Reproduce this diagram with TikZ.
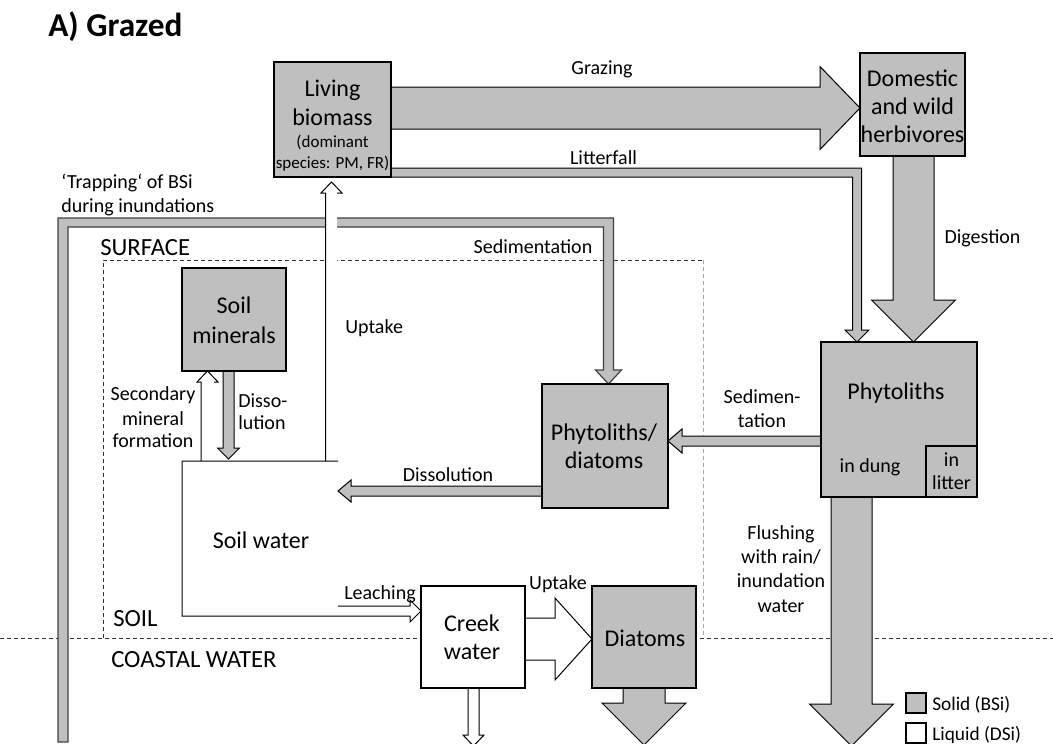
\documentclass[tikz,border=0pt]{standalone}
\usepackage{fontspec}
\setmainfont{Carlito}
\definecolor{fg}{RGB}{191,191,191}
\definecolor{dk}{RGB}{64,64,64}
\newcommand\darr[7]{\path[#1] ({#2-#5},#3) -- ({#2-#5},{#4-#7}) -- ({#2-#6},{#4-#7}) -- (#2,#4) -- ({#2+#6},{#4-#7}) -- ({#2+#5},{#4-#7}) -- ({#2+#5},#3) -- cycle;}
\newcommand\harr[7]{\path[#1] (#3,{#2-#5}) -- ({#4-#7},{#2-#5}) -- ({#4-#7},{#2-#6}) -- (#4,#2) -- ({#4-#7},{#2+#6}) -- ({#4-#7},{#2+#5}) -- (#3,{#2+#5}) -- cycle;}
\def\pxu{0.75pt}
\tikzset{
 gar/.style={fill=fg, draw=black, line width=0.75pt},
 war/.style={fill=white, draw=black, line width=0.75pt},
 tar/.style={fill=fg, draw=dk, line width=0.9pt},
 gbox/.style={draw=black, fill=fg, line width=0.9pt, inner sep=0},
 wbox/.style={draw=black, fill=white, line width=0.9pt, inner sep=0},
 dsh/.style={draw=black!80, line width=0.75pt, dash pattern=on 3pt off 2.25pt},
 ldsh/.style={draw=black!35, line width=0.75pt, dash pattern=on 3pt off 2.25pt},
 T/.style={inner sep=0, anchor=base, font=\fontsize{18}{22}\selectfont},
 L/.style={inner sep=0, anchor=base, font=\fontsize{15}{18}\selectfont},
 S/.style={inner sep=0, anchor=base, font=\fontsize{12.75}{15}\selectfont},
 R/.style={inner sep=0, anchor=base west, font=\fontsize{18.5}{22}\selectfont},
}
\begin{document}
\begin{tikzpicture}[x=0.75pt,y=-0.75pt,line join=miter]
\useasboundingbox (0,0) rectangle (1053,743);
\clip (0,0) rectangle (1053,743);
% dashed region lines
\draw[dsh] (0,638) -- (1053,638);
\draw[dsh] (103,638) -- (103,260) -- (703,260);
\draw[ldsh] (703,260) -- (703,636);
% trapping / sedimentation arrow
\path[tar] (58,742) -- (58,218) -- (613.5,218) -- (613.5,370) -- (621.5,370) -- (608.5,384) -- (595.5,370) -- (603.5,370) -- (603.5,227) -- (68,227) -- (68,742) -- cycle;
% litterfall
\path[gar] (391,168) -- (861.5,168) -- (861.5,330) -- (869,330) -- (857,342) -- (845,330) -- (852.5,330) -- (852.5,177) -- (391,177) -- cycle;
% grazing
\harr{gar}{108}{391}{860}{21}{41.5}{40}
% digestion
\darr{gar}{913.5}{156}{342}{20.5}{42}{42}
% flushing
\darr{gar}{851.5}{497}{746}{20.5}{42}{42}
% diatoms down
\darr{gar}{644}{688}{745}{21}{42}{42}
% creek down
\darr{war}{473.5}{688}{746}{5.5}{10.5}{11}
% uptake creek -> diatoms
\harr{war}{639}{525}{592}{21}{41}{37}
% sedimentation horizontal
\harr{gar}{441}{821}{668}{5}{12}{-14}
% dissolution lower
\harr{gar}{491}{542}{338}{5}{11}{-13}
% dissolution of soil minerals
\darr{gar}{228.5}{371}{459}{5.5}{11}{11}
% uptake to living biomass (white)
\fill[white] (325.5,461) -- (325.5,193) -- (321,193) -- (331.5,182) -- (342,193) -- (337,193) -- (337,461) -- cycle;
\draw[line width=0.75pt] (325.5,461) -- (325.5,193) -- (321,193) -- (331.5,182) -- (342,193) -- (337,193);
% secondary mineral formation (white)
\fill[white] (201,461) -- (201,382) -- (197,382) -- (207.5,371) -- (218,382) -- (214,382) -- (214,461) -- cycle;
\draw[line width=0.75pt] (201,461) -- (201,382) -- (197,382) -- (207.5,371) -- (218,382) -- (214,382);
% soil water bracket and leaching arrow
\fill[white] (338,606) -- (410,606) -- (410,600) -- (421,611) -- (410,622) -- (410,616) -- (338,616) -- cycle;
\draw[line width=0.75pt] (338,461) -- (182,461) -- (182,616) -- (410,616) -- (410,622) -- (421,611) -- (410,600) -- (410,606) -- (338,606);
% boxes
\node[gbox, minimum width=117*\pxu, minimum height=115*\pxu] (lb) at (332.5,119.5) {};
\node[gbox, minimum width=105*\pxu, minimum height=103*\pxu] (dom) at (912.5,104.5) {};
\node[gbox, minimum width=156*\pxu, minimum height=155*\pxu] (ph) at (899,419.5) {};
\node[gbox, minimum width=51*\pxu, minimum height=51*\pxu] (lit) at (951.5,471.5) {};
\node[gbox, minimum width=126*\pxu, minimum height=124*\pxu] (pd) at (605,446) {};
\node[gbox, minimum width=104*\pxu, minimum height=103*\pxu] (sm) at (234,319.5) {};
\node[wbox, minimum width=104*\pxu, minimum height=102*\pxu] (cw) at (473,637) {};
\node[gbox, minimum width=104*\pxu, minimum height=102*\pxu] (dia) at (644,637) {};
\node[gbox, minimum width=20*\pxu, minimum height=20*\pxu] (leg1) at (916,703) {};
\node[wbox, minimum width=20*\pxu, minimum height=20*\pxu] (leg2) at (916,733) {};
% texts
\node[inner sep=0, anchor=base west, font=\bfseries\fontsize{25}{30}\selectfont] (title) at (48,36) {A) Grazed};
\node[T] (lb1) at (332.5,96) {Living};
\node[T] (lb2) at (332.5,125) {biomass};
\node[S] (lb3) at (332.5,147) {(dominant};
\node[S] (lb4) at (332.5,168) {species: PM, FR)};
\node[L] (gz) at (602,74) {Grazing};
\node[L] (lf) at (603.5,164) {Litterfall};
\node[T] (d1) at (912.5,86) {Domestic};
\node[T] (d2) at (912.5,114) {and wild};
\node[T] (d3) at (912.5,142) {herbivores};
\node[L] (dg) at (982.5,243) {Digestion};
\node[L, anchor=base west] (tr1) at (61,188) {‘Trapping‘ of BSi};
\node[L, anchor=base west] (tr2) at (61,212) {during inundations};
\node[L] (sed) at (533,253) {Sedimentation};
\node[R] (surf) at (100,255) {SURFACE};
\node[R] (soil) at (113,626) {SOIL};
\node[R] (coast) at (111,667) {COASTAL WATER};
\node[T] (sm1) at (234,313) {Soil};
\node[T] (sm2) at (234,343) {minerals};
\node[L, anchor=base west] (up1) at (345,333) {Uptake};
\node[L] (sec1) at (153,400) {Secondary};
\node[L] (sec2) at (153,425) {mineral};
\node[L] (sec3) at (153,447) {formation};
\node[L, anchor=base west] (dis1) at (238,407) {Disso-};
\node[L, anchor=base west] (dis2) at (238,429) {lution};
\node[T] (pd1) at (604,440) {Phytoliths/};
\node[T] (pd2) at (604,468) {diatoms};
\node[L] (dl) at (448,481) {Dissolution};
\node[L] (sd1) at (762,403) {Sedimen-};
\node[L] (sd2) at (762,427) {tation};
\node[T] (pht) at (896,399) {Phytoliths};
\node[L] (dung) at (870,472) {in dung};
\node[L] (lt1) at (951.5,466) {in};
\node[L] (lt2) at (951.5,489) {litter};
\node[L] (fl1) at (781,539) {Flushing};
\node[L] (fl2) at (781,563) {with rain/};
\node[L] (fl3) at (781,587) {inundation};
\node[L] (fl4) at (781,612) {water};
\node[T] (sw) at (261,548) {Soil water};
\node[L] (le) at (380,599) {Leaching};
\node[T] (cr1) at (472,631) {Creek};
\node[T] (cr2) at (472,659) {water};
\node[L] (up2) at (558,589) {Uptake};
\node[T] (diat) at (645,646) {Diatoms};
\node[inner sep=0, anchor=base west, font=\fontsize{14.5}{17}\selectfont] (lg1) at (932,710) {Solid (BSi)};
\node[inner sep=0, anchor=base west, font=\fontsize{14.5}{17}\selectfont] (lg2) at (932,740) {Liquid (DSi)};
\end{tikzpicture}
\end{document}
